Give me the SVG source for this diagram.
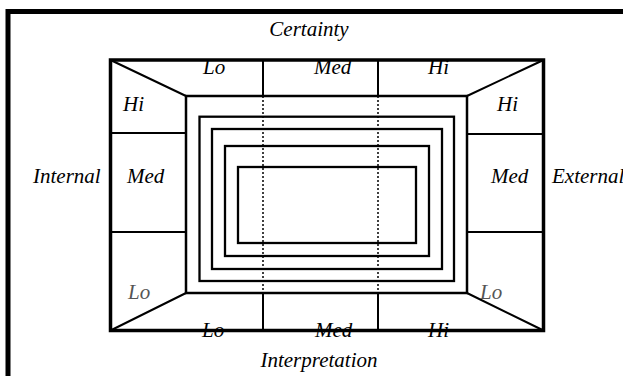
<svg xmlns="http://www.w3.org/2000/svg" width="623" height="376" viewBox="0 0 623 376">
  <style>
    .lbl { font-family: "Liberation Serif", "Times New Roman", serif; font-style: italic; font-size: 21px; fill: #000; }
    .dim { fill: #555; }
    .ln { stroke: #000; fill: none; }
    .ring { stroke: #000; stroke-width: 2.3; fill: none; }
    .dot { stroke: #000; stroke-width: 1.5; stroke-dasharray: 2 2; fill: none; }
  </style>
  <rect width="623" height="376" fill="#fff"/>

  <!-- outer frame, open at right and bottom -->
  <path class="ln" stroke-width="5" d="M8,380 V11.5 H630"/>

  <!-- box with bevelled bands -->
  <g id="frame">
    <rect class="ln" stroke-width="3.5" x="110.5" y="60" width="433" height="270.5"/>
    <rect class="ln" stroke-width="2.5" x="186" y="96" width="281" height="197"/>
    <path class="ln" stroke-width="2" d="M110.5,60 L186,96 M543.5,60 L467,96 M110.5,330.5 L186,293 M543.5,330.5 L467,293"/>
  </g>

  <!-- band dividers -->
  <g id="dividers">
    <path class="ln" stroke-width="2" d="M263,60 V96 M378,60 V96 M263,293 V330.5 M378,293 V330.5"/>
    <path class="ln" stroke-width="2" d="M110.5,133 H186 M110.5,232 H186 M467,134 H543.5 M467,232 H543.5"/>
    <path class="dot" d="M263,96 V293 M378,96 V293"/>
  </g>

  <!-- concentric rings -->
  <g id="rings">
    <rect class="ring" x="199.5" y="116.7" width="254.5" height="164.3"/>
    <rect class="ring" x="212" y="129" width="230" height="140"/>
    <rect class="ring" x="225" y="146" width="204" height="110"/>
    <rect class="ring" x="238" y="167" width="178" height="76"/>
  </g>

  <!-- axis titles -->
  <g id="axes">
    <text class="lbl" x="309" y="36" text-anchor="middle" font-size="21.5">Certainty</text>
    <text class="lbl" x="319" y="367" text-anchor="middle" font-size="21.5">Interpretation</text>
    <text class="lbl" x="33" y="183">Internal</text>
    <text class="lbl" x="552" y="183">External</text>
  </g>

  <!-- band labels -->
  <g id="top-band">
    <text class="lbl" x="203" y="74">Lo</text>
    <text class="lbl" x="314" y="74">Med</text>
    <text class="lbl" x="428" y="74">Hi</text>
  </g>
  <g id="bottom-band">
    <text class="lbl" x="202" y="337">Lo</text>
    <text class="lbl" x="315" y="337">Med</text>
    <text class="lbl" x="428" y="337">Hi</text>
  </g>
  <g id="left-band">
    <text class="lbl" x="123" y="111">Hi</text>
    <text class="lbl" x="127" y="183">Med</text>
    <text class="lbl dim" x="128" y="299">Lo</text>
  </g>
  <g id="right-band">
    <text class="lbl" x="497" y="111">Hi</text>
    <text class="lbl" x="491" y="183">Med</text>
    <text class="lbl dim" x="480" y="299">Lo</text>
  </g>
</svg>
